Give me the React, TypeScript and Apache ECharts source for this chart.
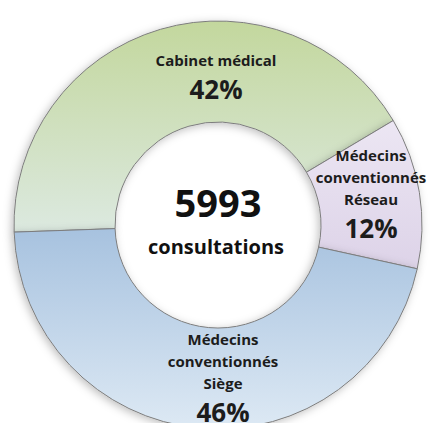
import React, { useEffect, useRef } from "react";
import * as echarts from "echarts";

const categories = ["Cabinet médical", "Médecins\nconventionnés\nRéseau", "Médecins\nconventionnés\nSiège"];
const percentages = [42, 12, 46];
const totalConsultations = "5993";
const totalLabel = "consultations";

const FONT = "'Open Sans', sans-serif";
const labelPositions = [
  [216, 78],
  [371, 195],
  [223, 379],
];

export default function App() {
  const ref = useRef<HTMLDivElement>(null);
  useEffect(() => {
    document.body.style.margin = "0";
    if (!ref.current) return;
    const chart = echarts.init(ref.current, null, { renderer: "svg" });
    const grad = (a: string, b: string) =>
      new echarts.graphic.LinearGradient(0, 0, 0, 1, [
        { offset: 0, color: a },
        { offset: 1, color: b },
      ]);
    const fills = [
      grad("#c3d79d", "#dce9e0"),
      grad("#ece6f3", "#ddd3e8"),
      grad("#a7c2df", "#dde9f4"),
    ];
    chart.setOption({
      animation: false,
      backgroundColor: "#ffffff",
      series: [
        {
          type: "pie",
          silent: true,
          center: [218, 225],
          radius: [103, 204],
          startAngle: 182,
          clockwise: true,
          avoidLabelOverlap: false,
          itemStyle: {
            borderColor: "#7d7d7d",
            borderWidth: 1,
            shadowBlur: 8,
            shadowColor: "rgba(0,0,0,0.25)",
            shadowOffsetX: -2,
            shadowOffsetY: 2,
          },
          label: {
            show: true,
            position: "inside",
            formatter: (p: any) => {
              const lines = String(p.name).split("\n").map((l) => `{n|${l}}`);
              return lines.join("\n") + `\n{p|${p.value}%}`;
            },
            rich: {
              n: { fontFamily: FONT, fontWeight: "bold", fontSize: 15, lineHeight: 22, color: "#1c1c1c" },
              p: { fontFamily: FONT, fontWeight: "bold", fontSize: 26, lineHeight: 36, color: "#1c1c1c" },
            },
          },
          labelLine: { show: false },
          labelLayout: (params: any) => {
            const pos = labelPositions[params.dataIndex];
            return { x: pos[0], y: pos[1], align: "center", verticalAlign: "middle" };
          },
          data: categories.map((c, i) => ({
            name: c,
            value: percentages[i],
            itemStyle: { color: fills[i] },
          })),
        },
      ],
      graphic: [
        {
          type: "text",
          x: 218,
          y: 202,
          style: {
            text: totalConsultations,
            font: `bold 38px ${FONT}`,
            fill: "#111111",
            textAlign: "center",
            textVerticalAlign: "middle",
          },
        },
        {
          type: "text",
          x: 216,
          y: 246,
          style: {
            text: totalLabel,
            font: `bold 20px ${FONT}`,
            fill: "#111111",
            textAlign: "center",
            textVerticalAlign: "middle",
          },
        },
      ],
    });
    return () => chart.dispose();
  }, []);
  return <div ref={ref} style={{ width: 430, height: 423 }} />;
}
